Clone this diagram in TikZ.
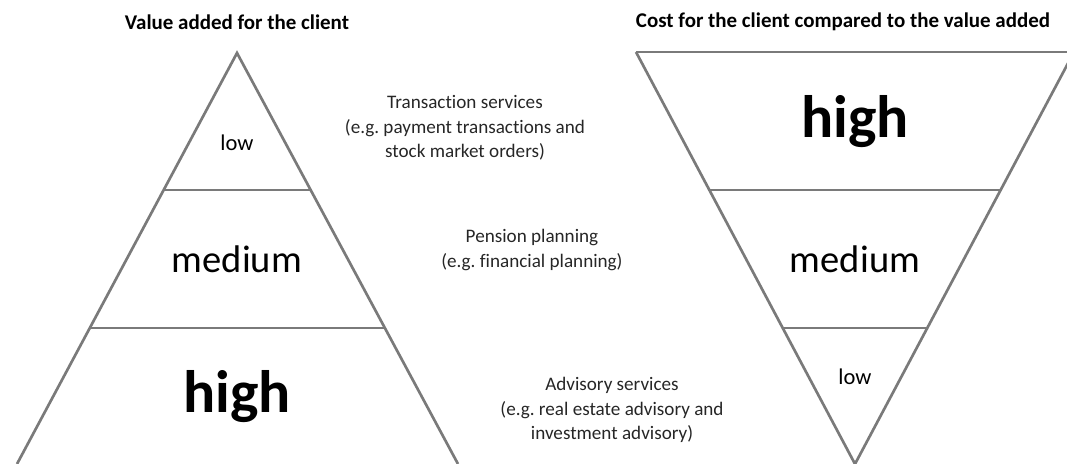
\documentclass[tikz,border=0pt]{standalone}
\usepackage{fontspec}
\setmainfont{Carlito}[Ligatures=NoCommon]
\frenchspacing
\definecolor{edgegray}{HTML}{7A7A7A}
\definecolor{textdark}{HTML}{262626}
\begin{document}
\begin{tikzpicture}[x=0.025cm,y=-0.025cm,
    edge/.style={draw=edgegray, line width=1.9pt, line join=miter},
    title/.style={font=\fontsize{14.9}{17}\selectfont\bfseries, text=black},
    level/.style={text=black},
    service/.style={align=center, text=textdark, font=\fontsize{13.6}{17.4}\selectfont}]
    % Page frame
    \clip (0,0) rectangle (1067,464);
    % Titles
    \node[title] (valuetitle) at (237,22) {Value added for the client};
    \node[title] (costtitle) at (843,22) {Cost for the client compared to the value added};
    % Draw the pyramid of value
    \draw[edge] (17,464) -- (237,53) -- (458,464);
    \draw[edge] (164,190) -- (310,190);
    \draw[edge] (90,328) -- (384,328);
    % Draw the upside-down pyramid of cost
    \draw[edge] (636,52) -- (1074,52);
    \draw[edge] (636,52) -- (855,464) -- (1074,52);
    \draw[edge] (709,190) -- (1001,190);
    \draw[edge] (783,328) -- (927,328);
    % Levels of value
    \node[level, font=\fontsize{16}{18}\selectfont] (valuelow) at (237,143) {low};
    \node[level, font=\fontsize{27.4}{30}\selectfont] (valuemedium) at (237,259) {medium};
    \node[level, font=\fontsize{42.6}{46}\selectfont\bfseries] (valuehigh) at (237,397) {high};
    % Levels of cost
    \node[level, font=\fontsize{42.6}{46}\selectfont\bfseries] (costhigh) at (855,122) {high};
    \node[level, font=\fontsize{27.4}{30}\selectfont] (costmedium) at (855,259) {medium};
    \node[level, font=\fontsize{16}{18}\selectfont] (costlow) at (855,377) {low};
    % Services in between
    \node[service] (transaction) at (465,128) {Transaction services\\(e.g. payment transactions and\\stock market orders)};
    \node[service] (pension) at (532,250) {Pension planning\\(e.g. financial planning)};
    \node[service] (advisory) at (612,410) {Advisory services\\(e.g. real estate advisory and\\investment advisory)};
\end{tikzpicture}
\end{document}
